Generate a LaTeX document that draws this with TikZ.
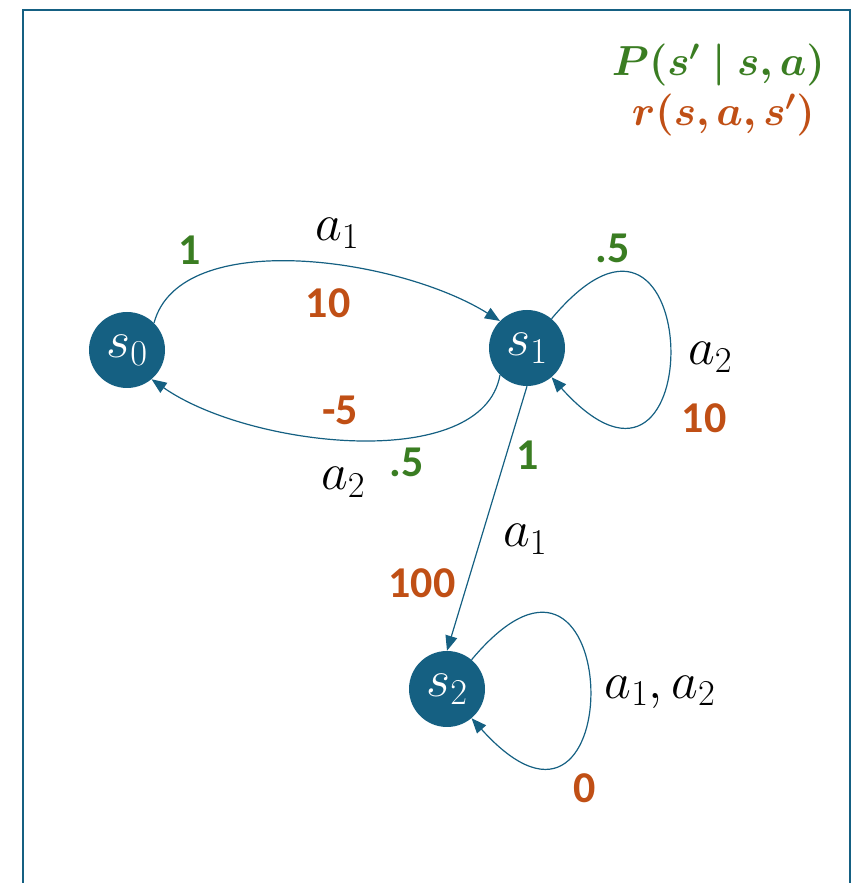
\documentclass[tikz,border=0pt]{standalone}
\usepackage{fix-cm}
\usepackage{amsmath,bm}
\usepackage{fontspec}
\setmainfont{Carlito}
\usetikzlibrary{arrows.meta}
\definecolor{cState}{RGB}{21,96,130}
\definecolor{cProb}{RGB}{58,125,34}
\definecolor{cRew}{RGB}{192,79,21}
\tikzset{
  state/.style ={circle,fill=cState,text=white,minimum size=76pt,inner sep=0pt,
                 font=\fontsize{52}{60}\selectfont},
  tr/.style    ={-{Triangle[length=15pt,width=12pt]},draw=cState,line width=1.2pt},
  frame/.style ={draw=cState,line width=2.4pt},
  prob/.style  ={text=cProb,font=\fontsize{44}{52}\selectfont\bfseries,inner sep=1pt},
  rew/.style   ={text=cRew,font=\fontsize{44}{52}\selectfont\bfseries,inner sep=1pt},
  act/.style   ={font=\fontsize{52}{60}\selectfont,inner sep=1pt},
  key/.style   ={font=\fontsize{42}{48}\selectfont,inner sep=0pt,anchor=east},
}

\begin{document}
\begin{tikzpicture}[x=1pt,y=1pt]
\useasboundingbox (0,0) rectangle (856,883);
\draw[frame] (23,-5) |- (850,873) -- (850,-5);

\node[state] (s0) at (127,533) {$s_0$};
\node[state] (s1) at (527,535) {$s_1$};
\node[state] (s2) at (447,194) {$s_2$};

% transitions
\draw[tr] (s0.45) .. controls +(75:100) and +(148:120) .. (s1.135);
\draw[tr] (s1.225) .. controls +(260:100) and +(-35:120) .. (s0.-50);
\draw[tr] (s1.south) -- (s2.north);
\draw[tr] (s1.50) .. controls +(50:240) and +(-48:240) .. (s1.-50);
\draw[tr] (s2.50) .. controls +(50:240) and +(-48:240) .. (s2.-50);

% labels
\node[prob] (p01) at (190,633) {1};
\node[act]  (a01) at (337,650) {$a_1$};
\node[rew]  (r01) at (328,580) {10};
\node[rew]  (r10) at (340,473) {-5};
\node[prob] (p10) at (407,421) {.5};
\node[act]  (a10) at (343,401) {$a_2$};
\node[prob] (p11) at (613,635) {.5};
\node[act]  (a11) at (710,526) {$a_2$};
\node[rew]  (r11) at (704,465) {10};
\node[prob] (p12) at (528,428) {1};
\node[act]  (a12) at (525,344) {$a_1$};
\node[rew]  (r12) at (422,300) {100};
\node[act]  (a22) at (660,191) {$a_1, a_2$};
\node[rew]  (r22) at (585,95) {0};

% legend
\node[key,text=cProb] (lP) at (825,818) {$\boldsymbol{P(s'\mid s,a)}$};
\node[key,text=cRew]  (lr) at (815,768) {$\boldsymbol{r(s,a,s')}$};
\end{tikzpicture}
\end{document}
